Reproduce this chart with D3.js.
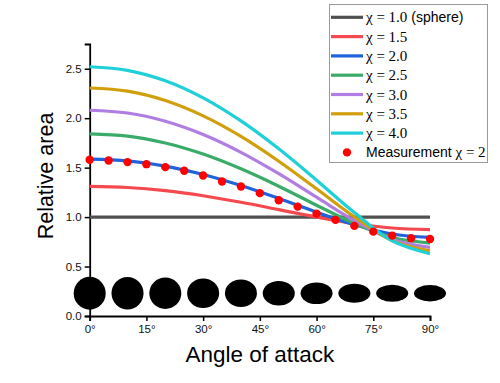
<!DOCTYPE html>
<html>
<head>
<meta charset="utf-8">
<script src="https://cdn.jsdelivr.net/npm/d3@7"></script>
<style>
  body { margin: 0; background: #fff; }
  svg { display: block; }
</style>
</head>
<body>
<div id="chart"></div>
<script>
// angles (deg) where the model curves were read
var angles = [0, 10, 20, 30, 40, 50, 60, 70, 80, 90];

// relative area for each aspect ratio
var sphere = [1, 1, 1, 1, 1, 1, 1, 1, 1, 1];
var chi15 = [1.310, 1.299, 1.267, 1.216, 1.150, 1.076, 1.001, 0.935, 0.890, 0.874];
var chi20 = [1.587, 1.569, 1.516, 1.431, 1.319, 1.188, 1.050, 0.923, 0.829, 0.794];
var chi25 = [1.842, 1.819, 1.749, 1.637, 1.488, 1.312, 1.120, 0.936, 0.793, 0.737];
var chi30 = [2.080, 2.052, 1.969, 1.835, 1.655, 1.439, 1.201, 0.965, 0.773, 0.693];
var chi35 = [2.305, 2.273, 2.178, 2.023, 1.816, 1.565, 1.286, 1.002, 0.762, 0.659];
var chi40 = [2.520, 2.484, 2.378, 2.205, 1.972, 1.690, 1.373, 1.046, 0.759, 0.630];

var seriesNames = ["\u03c7 = 1.0", "\u03c7 = 1.5", "\u03c7 = 2.0", "\u03c7 = 2.5", "\u03c7 = 3.0", "\u03c7 = 3.5", "\u03c7 = 4.0"];

// measurement, chi = 2
var measAngles = [0, 5, 10, 15, 20, 25, 30, 35, 40, 45, 50, 55, 60, 65, 70, 75, 80, 85, 90];
var measValues = [1.580, 1.572, 1.556, 1.535, 1.505, 1.468, 1.420, 1.360, 1.309, 1.242, 1.171, 1.106, 1.035, 0.972, 0.911, 0.853, 0.813, 0.786, 0.779];

// silhouettes shown along the bottom
var shapeAngles = [0, 10, 20, 30, 40, 50, 60, 70, 80, 90];

var xTicks = [0, 15, 30, 45, 60, 75, 90];
var yTicks = [0, 0.5, 1.0, 1.5, 2.0, 2.5];

var width = 500, height = 383;
var colors = ["#505050", "#f44a4f", "#1f62de", "#3aab68", "#b07ee2", "#d29f0c", "#1fd0d8"];
var serif = "'Liberation Serif', 'Times New Roman', serif";
var sans = "'Liberation Sans', Arial, sans-serif";

var svg = d3.select("#chart").append("svg")
  .attr("width", width)
  .attr("height", height);

var x = d3.scaleLinear().domain([0, 90]).range([89.7, 430]);
var y = d3.scaleLinear().domain([0, 2.75]).range([316, 44]);

// silhouettes (height follows chi=2 area ratio)
var rx = 16;
svg.append("g").selectAll("ellipse")
  .data(shapeAngles)
  .enter().append("ellipse")
  .attr("cx", function(d) { return x(d); })
  .attr("cy", y(0.23))
  .attr("rx", rx)
  .attr("ry", function(d, i) { return 16.4 * chi20[i] / chi20[0]; })
  .attr("fill", "#000");

// axes
var xAxis = svg.append("g").attr("transform", "translate(0," + y(0) + ")");
xAxis.call(d3.axisBottom(x).tickValues(d3.range(7.5, 90, 15)).tickSize(3).tickFormat(""));
xAxis.call(d3.axisBottom(x).tickValues(xTicks).tickSize(5).tickPadding(4)
  .tickFormat(function(d) { return d + "\u00b0"; }));

var yAxis = svg.append("g").attr("transform", "translate(" + x(0) + ",0)");
yAxis.call(d3.axisLeft(y).tickValues(d3.range(0.25, 2.75, 0.5)).tickSize(3).tickFormat(""));
yAxis.call(d3.axisLeft(y).tickValues(yTicks).tickSize(5).tickPadding(3)
  .tickFormat(d3.format(".1f")));

svg.selectAll(".domain").attr("stroke", "#000").attr("stroke-width", 1.8);
svg.selectAll(".tick line").attr("stroke", "#000").attr("stroke-width", 1.5);
svg.selectAll(".tick text").style("font-family", sans).style("font-size", "11.5px").attr("fill", "#111");

// curves
var allSeries = [sphere, chi15, chi20, chi25, chi30, chi35, chi40];
var line = d3.line()
  .x(function(d, i) { return x(angles[i]); })
  .y(function(d) { return y(d); })
  .curve(d3.curveCatmullRom);

svg.append("g").selectAll("path")
  .data(allSeries)
  .enter().append("path")
  .attr("d", line)
  .attr("fill", "none")
  .attr("stroke", function(d, i) { return colors[i]; })
  .attr("stroke-width", 3.2);

// measurement points
svg.append("g").selectAll("circle")
  .data(measValues)
  .enter().append("circle")
  .attr("cx", function(d, i) { return x(measAngles[i]); })
  .attr("cy", function(d) { return y(d); })
  .attr("r", 4.2)
  .attr("fill", "#ff0000");

// axis titles
svg.append("text")
  .attr("x", (x(0) + x(90)) / 2)
  .attr("y", 362)
  .attr("text-anchor", "middle")
  .style("font-family", sans)
  .style("font-size", "22.5px")
  .text("Angle of attack");

svg.append("text")
  .attr("transform", "translate(53,176) rotate(-90)")
  .attr("text-anchor", "middle")
  .style("font-family", sans)
  .style("font-size", "21.5px")
  .text("Relative area");

// legend
var lg = svg.append("g");
lg.append("rect")
  .attr("x", 329.5).attr("y", 4.5)
  .attr("width", 158).attr("height", 158)
  .attr("fill", "#fff")
  .attr("stroke", "#9a9a9a");

var rowY = function(i) { return 17.3 + i * 19.3; };
seriesNames.forEach(function(name, i) {
  lg.append("line")
    .attr("x1", 331).attr("x2", 363)
    .attr("y1", rowY(i)).attr("y2", rowY(i))
    .attr("stroke", colors[i])
    .attr("stroke-width", 3.2);
  var t = lg.append("text")
    .attr("x", 366).attr("y", rowY(i) + 5);
  t.append("tspan").style("font-family", serif).style("font-size", "15px").text(name);
  if (i === 0) {
    t.append("tspan").style("font-family", sans).style("font-size", "14px").text(" (sphere)");
  }
});

lg.append("circle")
  .attr("cx", 347).attr("cy", rowY(7))
  .attr("r", 4.2)
  .attr("fill", "#ff0000");
var mt = lg.append("text").attr("x", 366).attr("y", rowY(7) + 5);
mt.append("tspan").style("font-family", sans).style("font-size", "14px").text("Measurement ");
mt.append("tspan").style("font-family", serif).style("font-size", "15px").text("\u03c7 = 2");
</script>
</body>
</html>
